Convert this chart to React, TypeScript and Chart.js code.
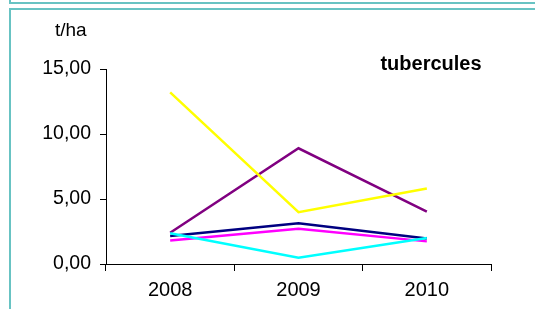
import React, { useEffect, useRef } from "react";
import { Chart, registerables } from "chart.js";

Chart.register(...registerables);

const categories = ["2008", "2009", "2010"];
const yellowSeries = [13.2, 3.98, 5.8];
const purpleSeries = [2.41, 8.9, 4.03];
const navySeries = [2.15, 3.13, 1.97];
const magentaSeries = [1.8, 2.72, 1.74];
const cyanSeries = [2.36, 0.49, 2.0];
const yTicks = [0, 5, 10, 15];
const unitLabel = "t/ha";
const titleText = "tubercules";

const FONT = "'Liberation Sans', Arial, sans-serif";
const TEAL = "#68C3C3";

const decorPlugin = {
  id: "decor",
  beforeDraw(chart: any) {
    const ctx = chart.ctx;
    ctx.save();
    ctx.fillStyle = "#ffffff";
    ctx.fillRect(0, 0, chart.width, chart.height);
    ctx.fillStyle = TEAL;
    ctx.fillRect(9, 0, 2, 4);
    ctx.fillRect(9, 2, chart.width - 9, 2);
    ctx.fillRect(9, 8, chart.width - 9, 2);
    ctx.fillRect(9, 8, 2, chart.height - 8);
    ctx.restore();
  },
  afterDraw(chart: any) {
    const ctx = chart.ctx;
    const area = chart.chartArea;
    ctx.save();
    ctx.fillStyle = "#000000";
    ctx.textBaseline = "alphabetic";
    ctx.font = `19px ${FONT}`;
    ctx.textAlign = "left";
    ctx.fillText(unitLabel, 55, 35.5);
    ctx.font = `bold 20px ${FONT}`;
    ctx.textAlign = "center";
    ctx.fillText(titleText, 431, area.top + 0.5);
    ctx.restore();
  },
};

export default function App() {
  const ref = useRef<HTMLCanvasElement | null>(null);

  useEffect(() => {
    document.body.style.margin = "0";
    const mk = (data: number[], color: string) => ({
      data,
      borderColor: color,
      backgroundColor: color,
      borderWidth: 2.5,
      pointRadius: 0,
      pointHoverRadius: 0,
      tension: 0,
      fill: false,
    });
    const chart = new Chart(ref.current as HTMLCanvasElement, {
      type: "line",
      data: {
        labels: categories,
        datasets: [
          mk(cyanSeries, "#00FFFF"),
          mk(magentaSeries, "#FF00FF"),
          mk(navySeries, "#000080"),
          mk(yellowSeries, "#FFFF00"),
          mk(purpleSeries, "#800080"),
        ],
      },
      options: {
        responsive: false,
        animation: false,
        devicePixelRatio: 1,
        layout: { padding: { top: 69, right: 44, left: 0, bottom: 0 } },
        plugins: {
          legend: { display: false },
          tooltip: { enabled: false },
          title: { display: false },
        },
        scales: {
          x: {
            type: "category",
            offset: true,
            grid: {
              offset: true,
              drawOnChartArea: false,
              drawTicks: true,
              tickLength: 7,
              color: "#000000",
            },
            border: { display: true, color: "#000000", width: 1 },
            ticks: {
              color: "#000000",
              font: { family: FONT, size: 20 },
              padding: 7,
              maxRotation: 0,
            },
            afterFit(scale: any) {
              scale.height = 309 - 264;
            },
          },
          y: {
            min: 0,
            max: 15,
            afterBuildTicks(scale: any) {
              scale.ticks = yTicks.map((v) => ({ value: v }));
            },
            grid: {
              drawOnChartArea: false,
              drawTicks: true,
              tickLength: 6,
              color: "#000000",
            },
            border: { display: true, color: "#000000", width: 1 },
            ticks: {
              color: "#000000",
              font: { family: FONT, size: 19.5 },
              padding: 9,
              callback: (v: any) => Number(v).toFixed(2).replace(".", ","),
            },
            afterFit(scale: any) {
              scale.width = 106;
            },
          },
        },
      },
      plugins: [decorPlugin],
    });
    return () => chart.destroy();
  }, []);

  return (
    <div style={{ position: "absolute", left: 0, top: 0, width: 535, height: 309 }}>
      <canvas ref={ref} width={535} height={309} style={{ display: "block" }} />
    </div>
  );
}
